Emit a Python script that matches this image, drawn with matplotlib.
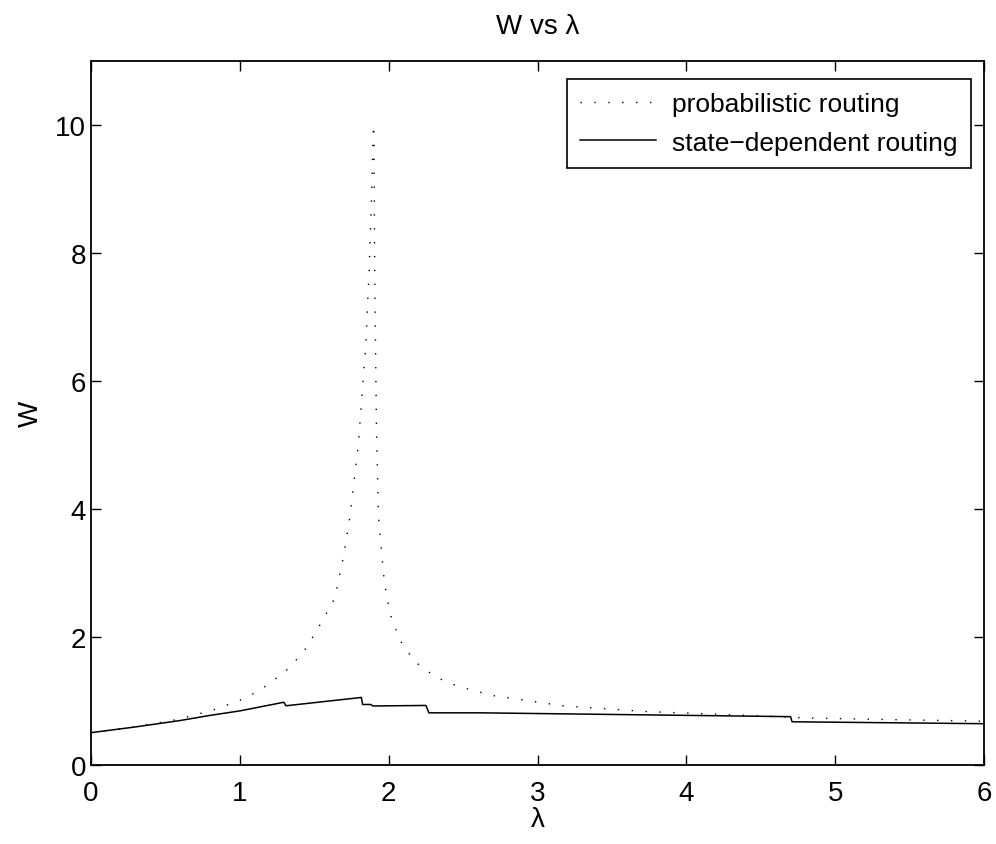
import matplotlib
matplotlib.use("Agg")
from matplotlib import pyplot as plt

plt.rcParams['font.family'] = ['Liberation Sans', 'DejaVu Sans']

# Data for 'probabilistic routing'
PRx = [0.0, 0.27, 0.59, 0.82, 0.98, 1.06, 1.13, 1.2, 1.336, 1.448, 1.542, 1.638,
       1.70, 1.74, 1.795, 1.845, 1.867, 1.883, 1.896, 1.90,
       1.903, 1.907, 1.918, 1.931, 1.963, 1.975, 2.01, 2.074, 2.175, 2.314,
       2.47, 2.70, 3.17, 3.73, 4.41, 4.81, 5.46, 6.0]
PRy = [0.5, 0.58, 0.71, 0.855, 0.985, 1.07, 1.16, 1.27, 1.52, 1.83, 2.2, 2.6,
       3.3, 3.89, 4.98, 6.52, 7.64, 8.73, 9.88, 10.0,
       8.84, 7.43, 5.22, 3.89, 3.02, 2.80, 2.35, 1.95, 1.61, 1.37,
       1.22, 1.08, 0.92, 0.83, 0.77, 0.73, 0.70, 0.68]

# Data for 'state-dependent routing'
SDx = [0.0, 0.3, 0.6, 0.8, 1.0, 1.295, 1.31, 1.816, 1.825, 1.88, 1.893,
       2.25, 2.27, 2.61, 4.70, 4.71, 6.0]
SDy = [0.5, 0.59, 0.69, 0.77, 0.84, 0.975, 0.92, 1.05, 0.94, 0.94, 0.917,
       0.925, 0.81, 0.81, 0.75, 0.67, 0.64]

fig = plt.figure(figsize=(9.96, 8.45), dpi=100)
ax = fig.add_axes([0.0914, 0.0939, 0.8966, 0.8331])

ax.plot(PRx, PRy, 'k', linestyle=(0, (1, 9)), linewidth=1.0, label='probabilistic routing')
ax.plot(SDx, SDy, 'k-', linewidth=1.1, label='state\u2212dependent routing')

ax.set_xlim(0, 6)
ax.set_ylim(0, 11)
ax.set_xticks(range(0, 7))
ax.set_yticks(range(0, 11, 2))

ax.tick_params(direction='in', length=7, width=1.0, labelsize=20,
               top=True, right=True)
ax.tick_params(axis='x', pad=11)
for s in ax.spines.values():
    s.set_linewidth(1.3)

ax.set_title('W vs \u03bb', fontsize=20, pad=20)
ax.set_xlabel('\u03bb', fontsize=20, labelpad=0)
ax.set_ylabel('W', fontsize=20, labelpad=8)

leg = ax.legend(loc='upper right', bbox_to_anchor=(1.0, 0.993), fontsize=19,
                handlelength=2.9, handletextpad=0.6, labelspacing=0.55,
                borderpad=0.5, borderaxespad=0.5, fancybox=False, framealpha=1)
leg.get_frame().set_edgecolor('k')
leg.get_frame().set_linewidth(1.2)

fig.savefig('out.png', dpi=100)
